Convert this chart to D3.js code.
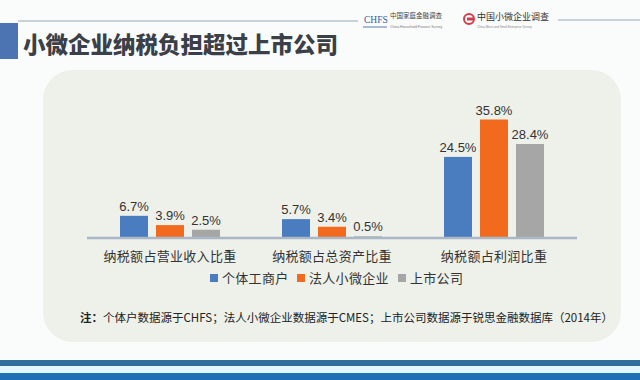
<!DOCTYPE html>
<html>
<head>
<meta charset="utf-8">
<script src="https://cdn.jsdelivr.net/npm/d3@7/dist/d3.min.js"></script>
<style>
  html, body { margin: 0; padding: 0; background: #fafbfb; }
  svg { display: block; }
  text { font-family: "Noto Sans CJK SC", "Liberation Sans", sans-serif; }
</style>
</head>
<body>
<svg id="chart" width="640" height="380"></svg>
<script>
const title = "小微企业纳税负担超过上市公司";
const categories = ["纳税额占营业收入比重", "纳税额占总资产比重", "纳税额占利润比重"];
const seriesNames = ["个体工商户", "法人小微企业", "上市公司"];
const individual = [6.7, 5.7, 24.5];
const smallFirms = [3.9, 3.4, 35.8];
const listed = [2.5, 0.5, 28.4];
const note = "个体户数据源于CHFS；法人小微企业数据源于CMES；上市公司数据源于锐思金融数据库（2014年）";
const colors = ["#4a7dc0", "#f26a1e", "#a6a6a6"];

const seriesValues = [individual, smallFirms, listed];

const svg = d3.select("#chart");

svg.append("rect").attr("width", 640).attr("height", 380).attr("fill", "#fafbfb");

// header lines
svg.append("line").attr("x1", 18).attr("x2", 358).attr("y1", 21).attr("y2", 21)
  .attr("stroke", "#b9c3ce").attr("stroke-width", 1.5);
svg.append("line").attr("x1", 558).attr("x2", 640).attr("y1", 20).attr("y2", 20)
  .attr("stroke", "#b9c3ce").attr("stroke-width", 1.5);
svg.append("rect").attr("x", 0).attr("y", 23).attr("width", 18).attr("height", 36).attr("fill", "#4c74b3");

svg.append("text").attr("x", 23).attr("y", 53).text(title)
  .attr("font-size", 22.5).attr("font-weight", "900").attr("fill", "#3a3f48");

// logos (as text)
const logo = svg.append("g");
logo.append("text").attr("x", 364).attr("y", 23).text("CHFS")
  .style("font-family", "'Liberation Serif', serif").attr("font-size", 9.5).attr("fill", "#2f5c9c");
logo.append("line").attr("x1", 363).attr("x2", 387).attr("y1", 27).attr("y2", 27).attr("stroke", "#2f5c9c").attr("stroke-width", 0.8);
logo.append("text").attr("x", 390).attr("y", 18).text("中国家庭金融调查")
  .attr("font-size", 6.5).attr("fill", "#444");
logo.append("text").attr("x", 390).attr("y", 27.5).text("China Household Finance Survey")
  .style("font-family", "'Liberation Sans', sans-serif").attr("font-size", 3.5).attr("fill", "#777");
logo.append("circle").attr("cx", 469).attr("cy", 19).attr("r", 5).attr("fill", "none").attr("stroke", "#d93a4a").attr("stroke-width", 2);
logo.append("rect").attr("x", 467).attr("y", 17.5).attr("width", 6).attr("height", 3).attr("fill", "#d93a4a");
logo.append("text").attr("x", 477).attr("y", 20).text("中国小微企业调查")
  .attr("font-size", 9).attr("fill", "#333");
logo.append("text").attr("x", 477).attr("y", 27.5).text("China Micro and Small Enterprise Survey")
  .style("font-family", "'Liberation Sans', sans-serif").attr("font-size", 3).attr("fill", "#888");

// panel
svg.append("rect").attr("x", 43).attr("y", 70).attr("width", 578).attr("height", 272)
  .attr("rx", 30).attr("ry", 30).attr("fill", "#eef0ea");

// bottom stripes
svg.append("rect").attr("x", 0).attr("y", 360).attr("width", 640).attr("height", 6).attr("fill", "#2e6d9c");
svg.append("rect").attr("x", 0).attr("y", 366).attr("width", 640).attr("height", 7).attr("fill", "#e3f6fb");
svg.append("rect").attr("x", 0).attr("y", 373).attr("width", 640).attr("height", 7).attr("fill", "#1f6fb4");

// scales
const baseY = 238;
const x0 = d3.scaleBand().domain(categories).range([89, 575]).paddingInner(0).paddingOuter(0);
const x1 = d3.scaleBand().domain(seriesNames).range([-54, 54]).paddingInner(8 / 36).paddingOuter(4 / 36);
const y = d3.scaleLinear().domain([0, 40]).range([baseY, baseY - 132.4]);

const data = [];
categories.forEach((c, i) => {
  seriesNames.forEach((s, j) => data.push({ c, s, j, v: seriesValues[j][i] }));
});

const g = svg.append("g");
g.selectAll("rect.bar").data(data).join("rect").attr("class", "bar")
  .attr("x", d => x0(d.c) + x0.bandwidth() / 2 + x1(d.s))
  .attr("width", x1.bandwidth())
  .attr("y", d => y(d.v))
  .attr("height", d => y(0) - y(d.v))
  .attr("fill", d => colors[d.j]);

g.selectAll("text.val").data(data).join("text").attr("class", "val")
  .attr("x", d => x0(d.c) + x0.bandwidth() / 2 + x1(d.s) + x1.bandwidth() / 2)
  .attr("y", d => y(d.v) - 5)
  .attr("text-anchor", "middle")
  .style("font-family", "'Liberation Sans', Arial, sans-serif")
  .attr("font-size", 13).attr("fill", "#333")
  .text(d => d.v.toFixed(1) + "%");

// baseline axis
const xAxis = d3.axisBottom(x0).tickSize(0).tickPadding(14);
const ax = svg.append("g").attr("transform", `translate(0,${baseY})`).call(xAxis);
ax.select(".domain").attr("d", "M87,0H577").attr("stroke", "#a9b7c6").attr("stroke-width", 2.5);
ax.selectAll(".tick text")
  .style("font-family", "'Noto Sans CJK SC', sans-serif")
  .attr("font-size", 13).attr("fill", "#333").attr("letter-spacing", 0.3);

// legend
const legendX = [210, 297, 398];
const lg = svg.append("g").selectAll("g").data(seriesNames).join("g")
  .attr("transform", (d, i) => `translate(${legendX[i]},0)`);
lg.append("rect").attr("x", 0).attr("y", 274).attr("width", 8).attr("height", 8)
  .attr("fill", (d, i) => colors[i]);
lg.append("text").attr("x", 12).attr("y", 283).text(d => d)
  .attr("font-size", 13).attr("fill", "#333").attr("letter-spacing", 0.3);

// note
const nt = svg.append("text").attr("x", 80).attr("y", 322).attr("font-size", 11.5).attr("fill", "#222");
nt.append("tspan").attr("font-weight", "bold").text("注：");
nt.append("tspan").text(note);
</script>
</body>
</html>
